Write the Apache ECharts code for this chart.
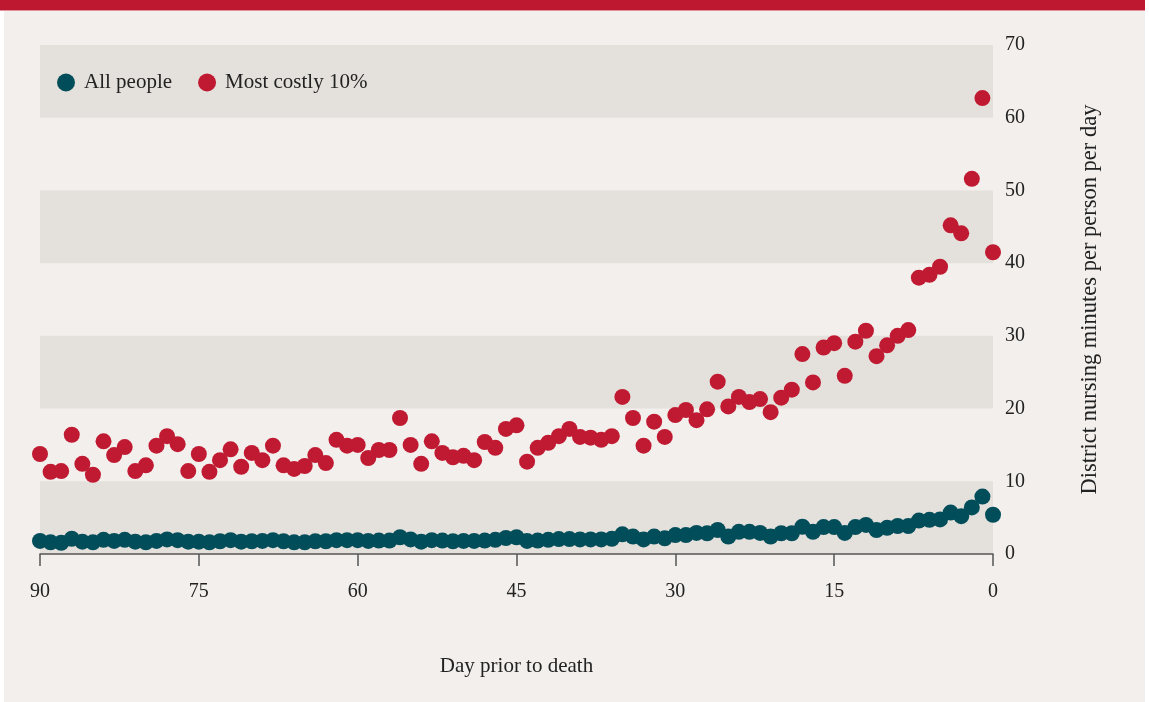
<!DOCTYPE html>
<html>
<head>
<meta charset="utf-8">
<script src="https://cdn.jsdelivr.net/npm/echarts@6/dist/echarts.min.js"></script>
<style>
  html, body { margin: 0; padding: 0; background: #ffffff; }
  #bg { position: absolute; left: 4px; top: 0; width: 1141px; height: 702px; background: #f2efec; }
  #banner { position: absolute; left: 0; top: 0; width: 1145px; height: 10px; background: #be1730; border-bottom: 1px solid #e2909c; }
  #chart { position: absolute; left: 0; top: 0; width: 1149px; height: 702px; }
</style>
</head>
<body>
<div id="bg"></div>
<div id="banner"></div>
<div id="chart"></div>
<script>
// Days prior to death: 90 .. 0
const days = [90,89,88,87,86,85,84,83,82,81,80,79,78,77,76,75,74,73,72,71,70,69,68,67,66,65,64,63,62,61,60,59,58,57,56,55,54,53,52,51,50,49,48,47,46,45,44,43,42,41,40,39,38,37,36,35,34,33,32,31,30,29,28,27,26,25,24,23,22,21,20,19,18,17,16,15,14,13,12,11,10,9,8,7,6,5,4,3,2,1,0];

const allPeople = [1.8,1.6,1.55,2.1,1.7,1.6,1.95,1.8,1.95,1.7,1.6,1.8,2.0,1.9,1.7,1.7,1.6,1.75,1.9,1.7,1.75,1.8,1.9,1.75,1.6,1.6,1.75,1.75,1.9,1.9,1.9,1.8,1.85,1.85,2.3,2.0,1.7,1.9,1.85,1.75,1.8,1.8,1.85,1.95,2.2,2.3,1.8,1.85,1.95,2.05,2.05,2.0,2.0,2.0,2.1,2.7,2.4,2.0,2.4,2.15,2.6,2.6,2.9,2.85,3.3,2.4,3.05,3.05,2.9,2.4,2.85,2.85,3.75,3.05,3.7,3.7,2.9,3.7,4.0,3.3,3.6,3.85,3.85,4.6,4.7,4.75,5.7,5.2,6.4,7.9,5.4];

const mostCostly = [13.75,11.3,11.4,16.4,12.4,10.9,15.5,13.6,14.7,11.4,12.2,14.9,16.2,15.1,11.4,13.75,11.3,12.9,14.4,12.0,13.9,12.9,14.9,12.2,11.7,12.1,13.6,12.5,15.7,14.9,15.0,13.2,14.3,14.3,18.7,15.0,12.4,15.5,13.9,13.3,13.5,12.9,15.4,14.6,17.2,17.7,12.7,14.6,15.3,16.2,17.2,16.1,16.0,15.7,16.2,21.6,18.7,14.9,18.2,16.1,19.1,19.8,18.4,19.9,23.7,20.3,21.6,20.9,21.3,19.5,21.5,22.6,27.5,23.6,28.4,29.0,24.5,29.2,30.7,27.2,28.7,30.0,30.8,38.0,38.4,39.5,45.2,44.1,51.6,62.7,41.5];

const xTicks = [90,75,60,45,30,15,0];
const seriesNames = ['All people', 'Most costly 10%'];

const serif = '"Liberation Serif", "DejaVu Serif", serif';
const chart = echarts.init(document.getElementById('chart'), null, {renderer: 'canvas'});

chart.setOption({
  backgroundColor: 'transparent',
  animation: false,
  textStyle: { fontFamily: serif },
  grid: { left: 40, right: 156, top: 45, bottom: 148, containLabel: false },
  legend: {
    left: 52, top: 67,
    icon: 'circle',
    itemWidth: 18, itemHeight: 18,
    itemGap: 26,
    textStyle: { fontFamily: serif, fontSize: 21, color: '#222', padding: [0,0,0,4] },
    data: seriesNames
  },
  xAxis: {
    type: 'value', min: 0, max: 90, interval: 15, inverse: true,
    name: 'Day prior to death', nameLocation: 'middle', nameGap: 102,
    nameTextStyle: { fontFamily: serif, fontSize: 21, color: '#222' },
    axisLine: { show: true, lineStyle: { color: '#555', width: 1.5 } },
    axisTick: { show: true, length: 12, lineStyle: { color: '#555', width: 1.5 } },
    axisLabel: { fontFamily: serif, fontSize: 20, color: '#222', margin: 28,
      customValues: xTicks },
    splitLine: { show: false }
  },
  yAxis: {
    type: 'value', position: 'right', min: 0, max: 70, interval: 10,
    name: 'District nursing minutes per person per day', nameLocation: 'middle',
    nameRotate: 90, nameGap: 86,
    nameTextStyle: { fontFamily: serif, fontSize: 22.5, color: '#222' },
    axisLine: { show: false }, axisTick: { show: false },
    axisLabel: { fontFamily: serif, fontSize: 20, color: '#222', margin: 12 },
    splitLine: { show: false },
    splitArea: { show: true, areaStyle: { color: ['#e4e0db', 'rgba(0,0,0,0)'] } }
  },
  series: [
    {
      name: seriesNames[0], type: 'scatter', symbol: 'circle', symbolSize: 16,
      itemStyle: { color: '#024d5a', opacity: 1 },
      data: days.map((d, i) => [d, allPeople[i]]),
      z: 3
    },
    {
      name: seriesNames[1], type: 'scatter', symbol: 'circle', symbolSize: 16,
      itemStyle: { color: '#c01a33', opacity: 1 },
      data: days.map((d, i) => [d, mostCostly[i]]),
      z: 4
    }
  ]
});
</script>
</body>
</html>
